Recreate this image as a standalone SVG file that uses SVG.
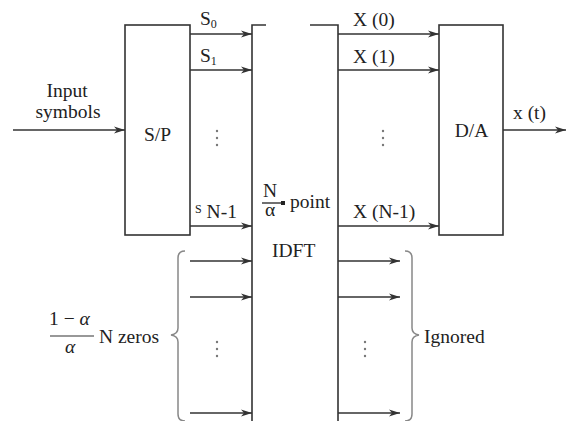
<svg xmlns="http://www.w3.org/2000/svg" width="573" height="421" viewBox="0 0 573 421" font-family="'Liberation Serif', 'DejaVu Serif', serif">
<defs>
<marker id="ah" markerWidth="12" markerHeight="8" refX="11" refY="4" orient="auto" markerUnits="userSpaceOnUse">
<path d="M0,0.5 L11,4 L0,7.5 L3,4 Z" fill="#333"/>
</marker>
</defs>
<style>
.box{fill:#fff;stroke:#333;stroke-width:1.6}
.ln{fill:none;stroke:#333;stroke-width:1.6}
.ar{fill:none;stroke:#333;stroke-width:1.6;marker-end:url(#ah)}
.br{fill:none;stroke:#888;stroke-width:1.5}
text{font-family:'Liberation Serif','DejaVu Serif',serif;font-size:19.5px;fill:#222}
.c{text-anchor:middle}
.sub{font-size:12px}
.dot{fill:#777}
</style>
<rect width="573" height="421" fill="#fff"/>
<g id="sp"><rect class="box" x="125" y="25" width="65" height="210"/><text class="c" x="157.5" y="141">S/P</text></g>
<g id="idft">
<path class="ln" d="M266,25 H252 V421"/>
<path class="ln" d="M310,25 H338 V421"/>
<text x="263" y="197">N</text>
<line x1="262" y1="203" x2="283" y2="203" stroke="#222" stroke-width="1.3"/>
<rect x="281" y="201" width="4" height="4" fill="#222"/>
<text x="265" y="216">α</text>
<text x="290" y="208">point</text>
<text x="272" y="257">IDFT</text>
</g>
<g id="da"><rect class="box" x="439" y="25" width="64" height="210"/><text class="c" x="471.5" y="137">D/A</text></g>
<g id="connectors">
<line class="ar" x1="13" y1="130" x2="125" y2="130"/>
<line class="ar" x1="190" y1="34" x2="252" y2="34"/>
<line class="ar" x1="190" y1="70" x2="252" y2="70"/>
<line class="ar" x1="190" y1="226" x2="252" y2="226"/>
<line class="ar" x1="190" y1="261" x2="252" y2="261"/>
<line class="ar" x1="190" y1="297" x2="252" y2="297"/>
<line class="ar" x1="190" y1="413" x2="252" y2="413"/>
<line class="ar" x1="338" y1="34" x2="439" y2="34"/>
<line class="ar" x1="338" y1="70" x2="439" y2="70"/>
<line class="ar" x1="338" y1="226" x2="439" y2="226"/>
<line class="ar" x1="338" y1="261" x2="400" y2="261"/>
<line class="ar" x1="338" y1="297" x2="400" y2="297"/>
<line class="ar" x1="338" y1="413" x2="400" y2="413"/>
<line class="ar" x1="503" y1="130" x2="566" y2="130"/>
</g>
<g id="labels">
<text class="c" x="67" y="97">Input</text>
<text class="c" x="68" y="118">symbols</text>
<text x="200" y="25">S<tspan class="sub" dy="3">0</tspan></text>
<text x="200" y="62">S<tspan class="sub" dy="3">1</tspan></text>
<text x="195" y="218"><tspan class="sub" dy="-5">S</tspan><tspan dy="5"> N-1</tspan></text>
<text x="353" y="26">X (0)</text>
<text x="353" y="63">X (1)</text>
<text x="353" y="218">X (N-1)</text>
<text x="513" y="119">x (t)</text>
<g class="dot"><circle cx="217" cy="131" r="1.2"/><circle cx="217" cy="138" r="1.2"/><circle cx="217" cy="145" r="1.2"/>
<circle cx="383" cy="131" r="1.2"/><circle cx="383" cy="138" r="1.2"/><circle cx="383" cy="145" r="1.2"/>
<circle cx="217" cy="342" r="1.2"/><circle cx="217" cy="349" r="1.2"/><circle cx="217" cy="356" r="1.2"/>
<circle cx="365" cy="342" r="1.2"/><circle cx="365" cy="349" r="1.2"/><circle cx="365" cy="356" r="1.2"/></g>
</g>
<g id="zeros">
<path class="br" d="M185,251 Q178,251 178,258 V328 Q178,334 171,335 Q178,336 178,342 V414 Q178,421 185,421"/>
<text x="49" y="325">1 − <tspan font-style="italic">α</tspan></text>
<line x1="50" y1="336" x2="94" y2="336" stroke="#333" stroke-width="1.2"/>
<text x="65" y="353" font-style="italic">α</text>
<text x="99" y="343">N zeros</text>
</g>
<g id="ignored">
<path class="br" d="M405,251 Q412,251 412,258 V328 Q412,334 419,335 Q412,336 412,342 V414 Q412,421 405,421"/>
<text x="424" y="343">Ignored</text>
</g>
</svg>
